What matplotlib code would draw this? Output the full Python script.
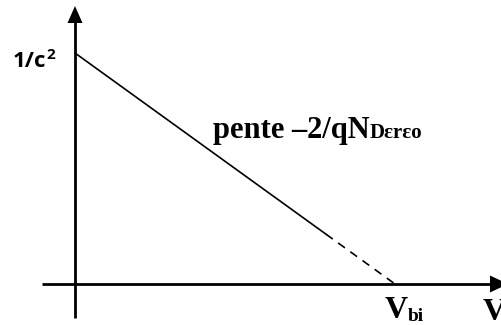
import matplotlib
matplotlib.use("Agg")
import matplotlib.pyplot as plt
from matplotlib.patches import Polygon

# Capacitance-voltage plot: 1/C^2 versus V for a Schottky/pn junction
inv_c2_at_zero = 231.0     # 1/C^2 intercept on the vertical axis
v_bi = 320.0               # built-in voltage (x intercept)
v_solid_end = 251.0        # measured range ends here; extrapolation continues dashed

line_v = [0.0, v_solid_end]
dash_v = [v_solid_end, v_bi]

def inv_c2(v):
    return inv_c2_at_zero * (1 - v / v_bi)

W, H = 501, 325
fig = plt.figure(figsize=(W / 100, H / 100), dpi=100)
ax = fig.add_axes([0, 0, 1, 1])
ox, oy = 75, 284
ax.set_xlim(-ox, W - ox)
ax.set_ylim(-(H - oy), oy)
ax.axis("off")

lw_axis = 2.0
# horizontal axis
ax.plot([-33, 418], [0, 0], color="black", lw=lw_axis, solid_capstyle="butt")
ax.add_patch(Polygon([[415, 8.5], [415, -8.5], [433, 0]], closed=True,
                     color="black", lw=0))
# vertical axis
ax.plot([0, 0], [-34, 262], color="black", lw=lw_axis, solid_capstyle="butt")
ax.add_patch(Polygon([[-7.5, 261], [7.5, 261], [0, 278]], closed=True,
                     color="black", lw=0))

# measured line and its extrapolation to V_bi
ax.plot(line_v, [inv_c2(v) for v in line_v], color="black", lw=1.2)
ax.plot(dash_v, [inv_c2(v) for v in dash_v], color="black", lw=1.2,
        dashes=(5, 4))

sans = "Open Sans"
serif = "Liberation Serif"

fig.canvas.draw()
r = fig.canvas.get_renderer()


def after(t, dx=0):
    bb = t.get_window_extent(renderer=r)
    return ax.transData.inverted().transform((bb.x1, 0))[0] + dx


t0 = ax.text(13 - ox, oy - 67, "1/c", fontsize=16, fontweight="bold",
             family=sans, ha="left", va="baseline")
ax.text(after(t0, 0), oy - 59, "2", fontsize=11, fontweight="bold",
        family=sans, ha="left", va="baseline")

t1 = ax.text(213 - ox, oy - 138, "pente \u20132/qN", fontsize=22,
             fontweight="bold", family=serif, ha="left", va="baseline")
ax.text(after(t1), oy - 138, "D\u03b5r\u03b5o", fontsize=15,
        fontweight="bold", family=serif, ha="left", va="baseline")

t2 = ax.text(385 - ox, oy - 318, "V", fontsize=23, fontweight="bold",
             family=serif, ha="left", va="baseline")
ax.text(after(t2), oy - 321, "bi", fontsize=14, fontweight="bold",
        family=serif, ha="left", va="baseline")

ax.text(483 - ox, oy - 320, "V", fontsize=23, fontweight="bold",
        family=serif, ha="left", va="baseline")

fig.savefig("out.png", dpi=100)
